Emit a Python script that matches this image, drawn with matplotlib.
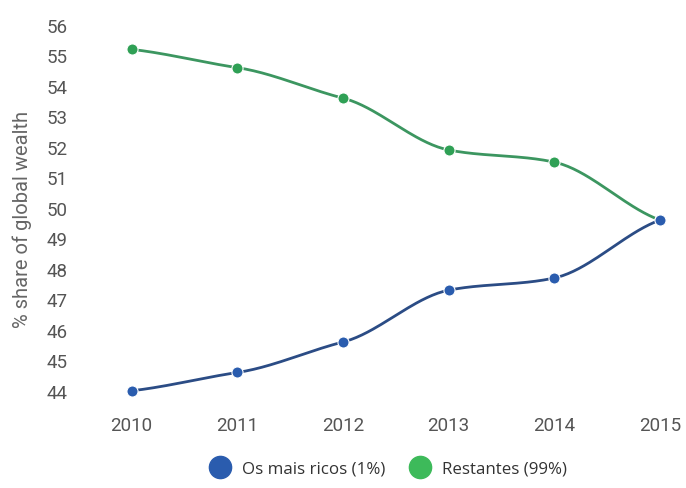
import numpy as np
import matplotlib
matplotlib.use("Agg")
import matplotlib.pyplot as plt
from matplotlib.lines import Line2D

years = [2010, 2011, 2012, 2013, 2014, 2015]
top1 = [44.0, 44.6, 45.6, 47.3, 47.7, 49.6]
rest99 = [55.2, 54.6, 53.6, 51.9, 51.5, 49.6]
yticks = list(range(44, 57))
labels = ["Os mais ricos (1%)", "Restantes (99%)"]


def smooth(x, y, n=40, tension=0.65):
    # hermite curve through the points, tangents damped a bit
    x = np.asarray(x, float)
    y = np.asarray(y, float)
    m = np.zeros_like(y)
    m[1:-1] = (y[2:] - y[:-2]) / (x[2:] - x[:-2])
    m[0] = (y[1] - y[0]) / (x[1] - x[0])
    m[-1] = (y[-1] - y[-2]) / (x[-1] - x[-2])
    m = m * tension
    xs, ys = [], []
    for i in range(len(x) - 1):
        h = x[i + 1] - x[i]
        t = np.linspace(0, 1, n)
        h00 = 2 * t**3 - 3 * t**2 + 1
        h10 = t**3 - 2 * t**2 + t
        h01 = -2 * t**3 + 3 * t**2
        h11 = t**3 - t**2
        xs.append(x[i] + t * h)
        ys.append(h00 * y[i] + h10 * h * m[i] + h01 * y[i + 1] + h11 * h * m[i + 1])
    return np.concatenate(xs), np.concatenate(ys)


blue_line, blue_dot = "#2b4c85", "#2a5cae"
green_line, green_dot = "#3c9660", "#2fa055"

fig = plt.figure(figsize=(6.86, 4.89), dpi=100)
ax = fig.add_axes([80 / 686, 1 - 400 / 489, 600 / 686, 385 / 489])

for ys, lc, dc in [(rest99, green_line, green_dot), (top1, blue_line, blue_dot)]:
    sx, sy = smooth(years, ys)
    ax.plot(sx, sy, color=lc, lw=2.0, solid_capstyle="round")
    ax.plot(years, ys, "o", color=dc, ms=8, mec="white", mew=0.8)

ax.set_xlim(2009.511, 2015.189)
ax.set_ylim(43.73, 56.36)
ax.set_xticks(years)
ax.set_yticks(yticks)
ax.tick_params(length=0, labelsize=13.5, labelcolor="#555555", labelfontfamily="Roboto")
ax.tick_params(axis="y", pad=9)
ax.tick_params(axis="x", pad=12)
for s in ax.spines.values():
    s.set_visible(False)

ax.set_ylabel("% share of global wealth", fontsize=14.5, color="#666666", family="Roboto")
ax.yaxis.set_label_coords(-0.08, 0.47)

handles = [
    Line2D([], [], marker="o", ls="", color=blue_dot, ms=16),
    Line2D([], [], marker="o", ls="", color="#3dba5a", ms=16),
]
fig.legend(handles, labels, loc="center", bbox_to_anchor=(385 / 686, 1 - 470 / 489),
           ncol=2, frameon=False, handletextpad=0.3, columnspacing=1.0,
           prop={"family": "Open Sans", "size": 12.2}, labelcolor="#333333")

fig.savefig("out.png", dpi=100)
